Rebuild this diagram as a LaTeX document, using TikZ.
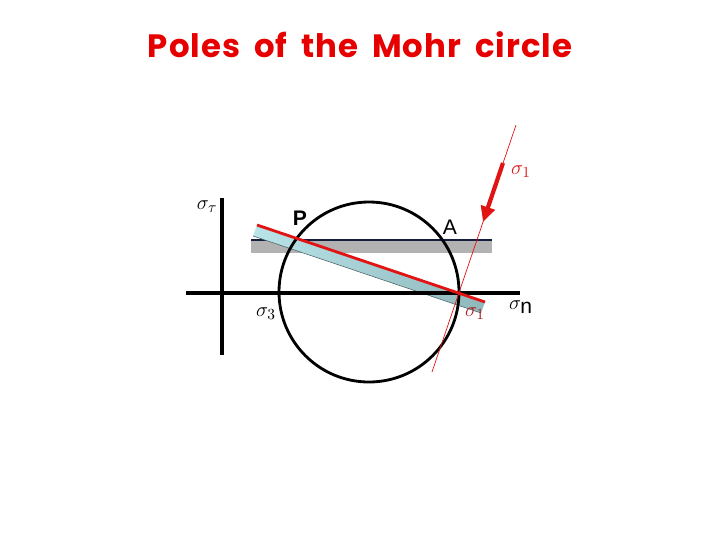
\documentclass[tikz,border=0pt]{standalone}
\usepackage{fontspec}
\setsansfont{Liberation Sans}
\newfontfamily\titlefont[LetterSpace=3,WordSpace=1.8]{Poppins}
\usetikzlibrary{arrows.meta}

\definecolor{titlered}{RGB}{230,0,0}
\definecolor{polered}{RGB}{225,20,20}
\definecolor{darkred}{RGB}{170,30,30}
\definecolor{bandgray}{RGB}{178,178,178}
\definecolor{bandnavy}{RGB}{20,30,60}
\definecolor{bandteal}{RGB}{185,228,232}
\definecolor{bandshade}{RGB}{125,165,170}

\tikzset{
  axis/.style={line width=3.2pt},
  mohr/.style={line width=2pt},
  sig/.style={font=\fontsize{15}{17}\selectfont, inner sep=0pt},
  ptlabel/.style={font=\sffamily\fontsize{15}{17}\selectfont, inner sep=0pt},
}

\begin{document}
\begin{tikzpicture}[x=0.025cm,y=-0.025cm]
  \useasboundingbox (0,0) rectangle (720,540);

  \node[font=\titlefont\bfseries\fontsize{23}{28}\selectfont, text=titlered]
    (title) at (360,45) {Poles of the Mohr circle};

  % points on the diagram
  \coordinate (P) at (281,238);
  \coordinate (A) at (476,240);
  \coordinate (s1) at (459,293);
  \coordinate (poletop) at (516,125);
  \coordinate (polebot) at (432,372);
  \coordinate (arrtail) at (503,163);
  \coordinate (arrtip) at (483,222);

  % horizontal plane band
  \fill[bandgray] (251,241) rectangle (492,253);
  \draw[bandnavy,line width=1.2pt] (251,240) -- (492,240);

  % inclined plane band
  \shade[left color=bandteal, right color=bandshade!70!bandteal]
    (257,225) -- (485,302) -- (481,313) -- (253,236) -- cycle;
  \draw[bandshade!60!black,line width=0.4pt] (253,236) -- (481,313);

  % axes
  \draw[axis] (186,293) -- (520,293);
  \draw[axis,line width=2.8pt] (222,198) -- (222,355);

  % Mohr circle
  \draw[mohr] (369,292) circle (90);

  % pole lines
  \draw[polered,line width=2pt] (257,225) -- (485,302);
  \draw[polered,line width=0.5pt] (polebot) -- (poletop);
  \draw[polered,line width=3pt,-{Triangle[length=11pt,width=10pt]}]
    (arrtail) -- (arrtip);

  % labels
  \node[sig] (stau) at (207,207) {$\sigma_\tau$};
  \node[sig] (s3) at (266,314) {$\sigma_3$};
  \node[sig] (sn) at (521,307) {$\sigma_{\textsf{n}}$};
  \node[sig,text=darkred] (s1lbl) at (475,314) {$\sigma_1$};
  \node[sig,text=polered] (s1top) at (521,172) {$\sigma_1$};
  \node[ptlabel,font=\sffamily\bfseries\fontsize{15}{17}\selectfont]
    (Plbl) at (300,218) {P};
  \node[ptlabel] (Albl) at (450,227) {A};
\end{tikzpicture}
\end{document}
